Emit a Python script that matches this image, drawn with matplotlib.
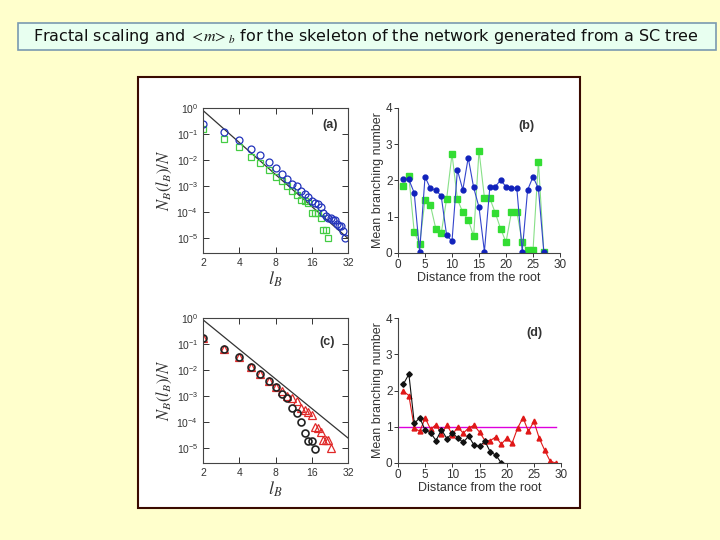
import matplotlib
matplotlib.use("Agg")
import matplotlib.pyplot as plt
from matplotlib.patches import Rectangle
from matplotlib.ticker import FixedLocator, FormatStrFormatter, LogLocator, NullLocator

plt.rcParams["font.family"] = ["Liberation Sans", "DejaVu Sans"]
plt.rcParams["mathtext.fontset"] = "stix"

# (a) box-counting, skeleton of the network
a_l = list(range(2, 31))
a_circles = [0.24, 0.115, 0.058, 0.026, 0.015, 0.0085, 0.005, 0.003, 0.0019, 0.0012,
             0.001, 6.5e-4, 5e-4, 3.6e-4, 2.6e-4, 2.2e-4, 2.0e-4, 1.6e-4, 9e-5, 7e-5,
             6e-5, 6e-5, 5e-5, 5e-5, 3.5e-5, 3e-5, 2.8e-5, 1.8e-5, 1e-5]
a_sq_l = list(range(2, 23))
a_squares = [0.155, 0.064, 0.031, 0.0126, 0.0076, 0.004, 0.0023, 0.0015, 0.001, 6.3e-4,
             4.6e-4, 2.8e-4, 2.7e-4, 2.2e-4, 9e-5, 9e-5, 9e-5, 6e-5, 2e-5, 2e-5, 1e-5]
a_fit_x = [2, 32]
a_fit_y = [0.8, 9.5e-6]

# (b) mean branching number vs distance
b_dist = list(range(1, 28))
b_blue = [2.04, 2.03, 1.66, 0.03, 2.1, 1.78, 1.74, 1.57, 0.49, 0.33, 2.29, 1.74, 2.63, 1.81,
          1.26, 0.04, 1.81, 1.83, 2.01, 1.83, 1.8, 1.79, 0.04, 1.74, 2.1, 1.78, 0.03]
b_green = [1.85, 2.13, 0.58, 0.24, 1.46, 1.32, 0.67, 0.54, 1.49, 2.73, 1.48, 1.12, 0.92, 0.46,
           2.82, 1.53, 1.51, 1.11, 0.67, 0.3, 1.12, 1.14, 0.3, 0.07, 0.07, 2.52, 0.03]

# (c)
c_circ_l = list(range(2, 18))
c_circles = [0.17, 0.064, 0.031, 0.0126, 0.007, 0.0039, 0.0022, 0.0012, 8e-4, 3.5e-4,
             2.2e-4, 1e-4, 3.8e-5, 1.9e-5, 1.9e-5, 9.4e-6]
c_tri_l = list(range(2, 24))
c_triangles = [0.17, 0.064, 0.031, 0.0126, 0.007, 0.0039, 0.0022, 1.5e-3, 9.8e-4, 8e-4,
               6.3e-4, 3.3e-4, 3e-4, 2.4e-4, 1.9e-4, 6.4e-5, 6e-5, 4e-5, 2.1e-5, 2.1e-5,
               2.1e-5, 1e-5]
c_fit_x = [2, 32]
c_fit_y = [0.85, 2.4e-5]

# (d)
d_black_dist = list(range(1, 20))
d_black = [2.18, 2.45, 1.09, 1.25, 0.9, 0.83, 0.62, 0.92, 0.67, 0.83, 0.69, 0.57, 0.74,
           0.49, 0.46, 0.6, 0.3, 0.22, 0.0]
d_red_dist = list(range(1, 30))
d_red = [1.98, 1.86, 0.97, 0.87, 1.24, 0.93, 1.06, 0.8, 1.05, 0.78, 1.0, 0.82, 0.97, 1.04,
         0.85, 0.62, 0.62, 0.72, 0.52, 0.68, 0.55, 0.96, 1.25, 0.87, 1.15, 0.68, 0.35, 0.05, 0.0]
d_ref_x = [0, 29]
d_ref_y = [1, 1]

txt = "#333333"

fig = plt.figure(figsize=(7.2, 5.4), dpi=100)
fig.patch.set_facecolor("#FFFFCC")

fig.patches.append(Rectangle((0.025, 0.9074), 0.9694, 0.05, transform=fig.transFigure,
                             facecolor="#E8FFF0", edgecolor="#7A9AB0", lw=1.2, zorder=-2))
fig.patches.append(Rectangle((0.1917, 0.0593), 0.614, 0.798, transform=fig.transFigure,
                             facecolor="white", edgecolor="#3A0A00", lw=1.5, zorder=-2))
fig.text(0.508, 0.9324, r"Fractal scaling and $<\!m\!>_b$ for the skeleton of the network generated from a SC tree",
         ha="center", va="center", fontsize=11.5, family=["DejaVu Sans"], color="#111111")


def log_panel(rect, label, lx, ly):
    ax = fig.add_axes(rect)
    ax.set_xscale("log", base=2)
    ax.set_yscale("log")
    ax.set_xlim(2, 32)
    ax.set_ylim(10 ** -5.58, 1)
    ax.xaxis.set_major_locator(FixedLocator([2, 4, 8, 16, 32]))
    ax.xaxis.set_major_formatter(FormatStrFormatter("%d"))
    ax.xaxis.set_minor_locator(NullLocator())
    ax.yaxis.set_major_locator(LogLocator(base=10, numticks=10))
    ax.yaxis.set_minor_locator(NullLocator())
    ax.tick_params(direction="in", top=True, right=True, length=4, width=0.7,
                   labelsize=7.5, colors=txt)
    for s in ax.spines.values():
        s.set_linewidth(0.8)
        s.set_color("#444444")
    ax.set_xlabel(r"$l_B$", fontsize=13, color=txt, labelpad=1)
    ax.set_ylabel(r"$N_B(l_B)/N$", fontsize=12, color=txt, labelpad=2)
    ax.text(lx, ly, label, transform=ax.transAxes, ha="center", va="center",
            fontsize=9, fontweight="bold", color=txt)
    return ax


def lin_panel(rect, label, lx, ly):
    ax = fig.add_axes(rect)
    ax.set_xlim(0, 30)
    ax.set_ylim(0, 4)
    ax.set_xticks([0, 5, 10, 15, 20, 25, 30])
    ax.set_yticks([0, 1, 2, 3, 4])
    ax.spines["top"].set_visible(False)
    ax.spines["right"].set_visible(False)
    for s in ("left", "bottom"):
        ax.spines[s].set_linewidth(0.8)
        ax.spines[s].set_color("#444444")
    ax.tick_params(direction="out", length=3, width=0.7, labelsize=8.5, colors=txt, pad=1)
    ax.set_xlabel("Distance from the root", fontsize=9, color=txt, labelpad=1)
    ax.set_ylabel("Mean branching number", fontsize=9, color=txt, labelpad=1)
    ax.text(lx, ly, label, transform=ax.transAxes, ha="center", va="center",
            fontsize=9, fontweight="bold", color=txt)
    return ax


ax_a = log_panel([0.282, 0.5315, 0.2014, 0.2685], "(a)", 0.876, 0.88)
ax_a.plot(a_fit_x, a_fit_y, color="#333333", lw=0.9)
ax_a.plot(a_sq_l, a_squares, ls="none", marker="s", ms=4.5, mfc="none", mec="#44CC44", mew=0.9)
ax_a.plot(a_l, a_circles, ls="none", marker="o", ms=5, mfc="none", mec="#2233BB", mew=0.9)

ax_b = lin_panel([0.5528, 0.5315, 0.225, 0.2685], "(b)", 0.79, 0.876)
ax_b.plot(b_dist, b_green, color="#88E088", lw=0.8, marker="s", ms=4.5,
          mfc="#33DD33", mec="#33DD33")
ax_b.plot(b_dist, b_blue, color="#3344CC", lw=0.8, marker="o", ms=3.5,
          mfc="#1122BB", mec="#1122BB")

ax_c = log_panel([0.282, 0.1426, 0.2014, 0.2685], "(c)", 0.855, 0.834)
ax_c.plot(c_fit_x, c_fit_y, color="#333333", lw=0.9)
ax_c.plot(c_tri_l, c_triangles, ls="none", marker="^", ms=5.5, mfc="none", mec="#E02828", mew=0.9)
ax_c.plot(c_circ_l, c_circles, ls="none", marker="o", ms=5, mfc="none", mec="#222222", mew=1.2)

ax_d = lin_panel([0.5528, 0.1426, 0.2264, 0.2685], "(d)", 0.834, 0.897)
ax_d.plot(d_ref_x, d_ref_y, color="#DD00DD", lw=1.0)
ax_d.plot(d_red_dist, d_red, color="#E01818", lw=0.8, marker="^", ms=3.5,
          mfc="#E01818", mec="#E01818")
ax_d.plot(d_black_dist, d_black, color="#111111", lw=0.8, marker="D", ms=2.8,
          mfc="#111111", mec="#111111")

fig.savefig("out.png", dpi=100, facecolor=fig.get_facecolor())
